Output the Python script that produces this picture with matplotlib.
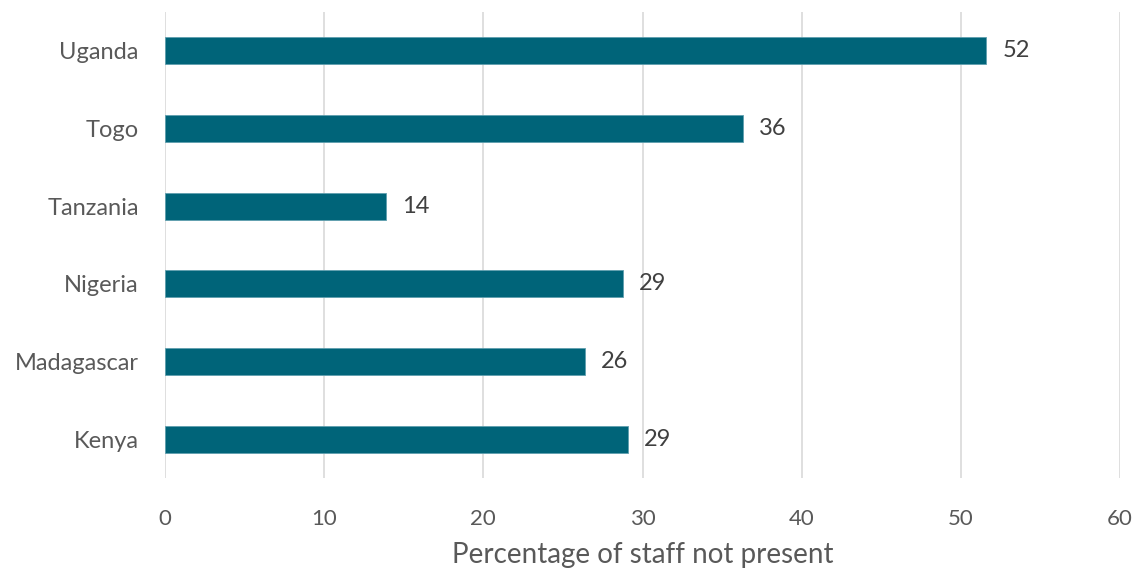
import matplotlib
matplotlib.use('Agg')
import matplotlib.pyplot as plt

plt.rcParams.update({
    'font.family': ['Lato', 'DejaVu Sans'],
    'font.size': 14,
})

countries = ['Kenya', 'Madagascar', 'Nigeria', 'Tanzania', 'Togo', 'Uganda']
pct_absent = [29.1, 26.4, 28.8, 13.9, 36.3, 51.6]
xticks = [0, 10, 20, 30, 40, 50, 60]

bar_color = '#006479'
text_color = '#595959'

fig = plt.figure(figsize=(11.35, 5.69), dpi=100)
ax = fig.add_axes([0.1454, 0.160, 0.8414, 0.819])

ypos = range(len(countries))
ax.barh(ypos, pct_absent, height=0.35, color=bar_color,
        edgecolor='#5f9fae', linewidth=0.6, zorder=3)

for y, v in zip(ypos, pct_absent):
    ax.text(v + 1.0, y, f'{v:.0f}', va='center', ha='left',
            fontsize=17, color='#404040')

ax.set_xlim(0, 60)
ax.set_ylim(-0.5, len(countries) - 0.5)
ax.set_xticks(xticks)
ax.set_yticks(list(ypos))
ax.set_yticklabels(countries, fontsize=17)
ax.tick_params(axis='both', length=0, colors=text_color)
ax.tick_params(axis='x', pad=22, labelsize=16)
ax.tick_params(axis='y', pad=19)
ax.grid(axis='x', color='#d9d9d9', linewidth=1.2, zorder=0)
for s in ax.spines.values():
    s.set_visible(False)

ax.set_xlabel('Percentage of staff not present', fontsize=20,
              color=text_color, labelpad=10)

fig.savefig('out.png', dpi=100)
